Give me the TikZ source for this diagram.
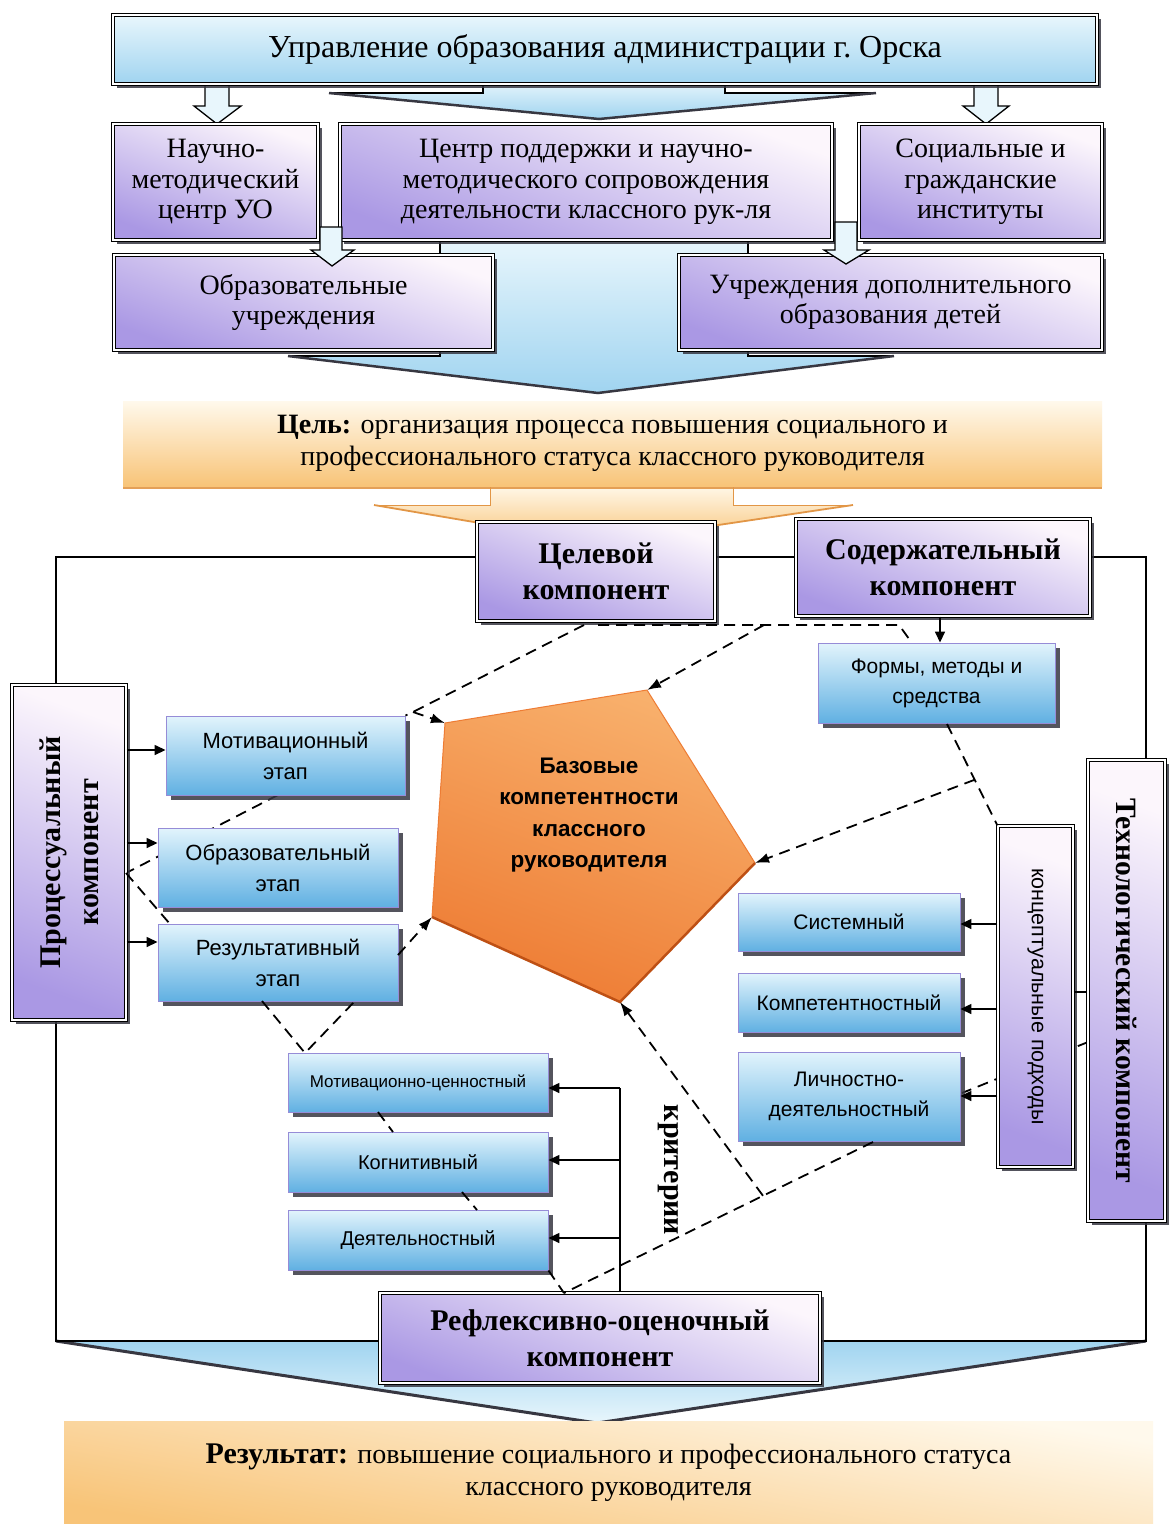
\documentclass[tikz,border=0pt]{standalone}
\usepackage{fontspec}
\setmainfont{Liberation Serif}
\newfontfamily\sansf{Liberation Sans}
\usetikzlibrary{shadows,arrows.meta,calc}
\definecolor{lav}{RGB}{170,152,228}
\definecolor{lavl}{RGB}{252,246,252}
\definecolor{bluel}{RGB}{226,244,252}
\definecolor{blued}{RGB}{96,176,226}
\definecolor{bluebd}{RGB}{150,140,215}
\definecolor{skyl}{RGB}{232,246,252}
\definecolor{skyd}{RGB}{160,212,240}
\definecolor{orl}{RGB}{255,249,236}
\definecolor{ord}{RGB}{248,196,120}
\definecolor{orbd}{RGB}{226,150,70}
\definecolor{pentl}{RGB}{248,176,108}
\definecolor{pentd}{RGB}{238,124,52}
\definecolor{pentbd}{RGB}{190,80,20}
\definecolor{shd}{RGB}{55,55,65}
\begin{document}
\begin{tikzpicture}[x=1pt,y=-1pt,
  pbox/.style={draw=black, line width=1.3pt, double=white, double distance=2.2pt,
     top color=lavl, bottom color=lav, shading angle=-20,
     drop shadow={shadow xshift=4pt, shadow yshift=-4pt, fill=shd, opacity=0.85},
     align=center, inner sep=0pt},
  bbox/.style={draw=bluebd, line width=0.9pt, top color=bluel, bottom color=blued,
     drop shadow={shadow xshift=5pt, shadow yshift=-5pt, fill=shd, opacity=0.85},
     align=center, inner sep=0pt, font=\sansf\fontsize{22}{31}\selectfont},
  sertxt/.style={font=\fontsize{28}{30.5}\selectfont, align=center},
  boldtxt/.style={font=\bfseries\fontsize{30}{36}\selectfont, align=center},
  dsh/.style={dash pattern=on 11pt off 7pt, line width=1.8pt},
  arr/.style={line width=1.5pt, -{Triangle[length=11pt,width=10pt]}},
  darr/.style={dsh, -{Latex[length=14pt,width=10pt]}},
  framel/.style={line width=1.5pt},
  hollow/.style={draw=black, line width=1.3pt, fill=skyl},
]
\useasboundingbox (0,0) rectangle (1168,1524);
\fill[white] (0,0) rectangle (1168,1524);

% frame and bottom arrow
\shade[top color=skyd, bottom color=skyl] (56,1341) -- (1146,1341) -- (597,1423) -- cycle;
\draw[line width=3pt, shd] (56,1341) -- (597,1423) -- (1146,1341);
\draw[framel] (56,557) rectangle (1146,1341);

% big arrows
\shade[top color=skyl, bottom color=skyd] (483,80) -- (725,80) -- (725,93) -- (876,93) -- (599,119) -- (329,93) -- (483,93) -- cycle;
\draw[line width=1.2pt] (483,80) -- (483,93) -- (329,93);
\draw[line width=1.2pt] (725,80) -- (725,93) -- (876,93);
\draw[line width=2.5pt, shd] (329,93) -- (599,119) -- (876,93);

\shade[top color=skyl, bottom color=skyd] (440,238) -- (748,238) -- (748,356) -- (894,356) -- (598,393) -- (288,356) -- (440,356) -- cycle;
\draw[line width=1.2pt] (440,238) -- (440,356) -- (288,356);
\draw[line width=1.2pt] (748,238) -- (748,356) -- (894,356);
\draw[line width=2.5pt, shd] (288,356) -- (598,393) -- (894,356);

\shade[top color=orl, bottom color=ord] (490,484) -- (733,484) -- (733,505) -- (853,505) -- (597,543) -- (374,505) -- (490,505) -- cycle;
\draw[orbd, line width=1pt] (490,486) -- (490,505) -- (374,505);
\draw[orbd, line width=1pt] (733,486) -- (733,505) -- (853,505);
\draw[orbd, line width=1.8pt] (374,505) -- (597,543) -- (853,505);

% small hollow arrows (top)
\draw[hollow] (205,80) -- (229,80) -- (229,106) -- (241,106) -- (217,124) -- (194,106) -- (205,106) -- cycle;
\draw[hollow] (974,80) -- (998,80) -- (998,106) -- (1009,106) -- (986,124) -- (963,106) -- (974,106) -- cycle;

% boxes
\node[pbox, top color=skyl, bottom color=skyd, minimum width=984pt, minimum height=69pt, font=\fontsize{32}{36}\selectfont] (top) at (605,49.5) {Управление образования администрации г.~Орска};

\node[pbox, sertxt, minimum width=205pt, minimum height=116pt] (nmc) at (215.5,182) {Научно-\\методический\\центр УО};
\node[pbox, sertxt, minimum width=492pt, minimum height=116pt] (cent) at (586,182) {Центр поддержки и научно-\\методического сопровождения\\деятельности классного рук-ля};
\node[pbox, sertxt, minimum width=243pt, minimum height=116pt] (soc) at (980.5,182) {Социальные и\\гражданские\\институты};
\node[pbox, sertxt, minimum width=379pt, minimum height=95pt] (obr) at (303.5,302.5) {Образовательные\\учреждения};
\node[pbox, sertxt, minimum width=423pt, minimum height=95pt] (dop) at (890.5,302.5) {Учреждения дополнительного\\образования детей};

\draw[hollow] (320,227) -- (342,227) -- (342,250) -- (354,250) -- (332,266) -- (311,250) -- (320,250) -- cycle;
\draw[hollow] (835,222) -- (857,222) -- (857,250) -- (869,250) -- (846,264) -- (824,250) -- (835,250) -- cycle;

\node[font=\fontsize{28}{32}\selectfont, align=center, minimum width=979pt, minimum height=85pt, top color=orl, bottom color=ord, inner sep=0pt,
  drop shadow={shadow xshift=0pt, shadow yshift=-3pt, fill=orbd, opacity=0.9}] (goal) at (612.5,443.5)
  {\textbf{Цель:} организация процесса повышения социального и\\профессионального статуса классного руководителя};

\node[pbox, boldtxt, minimum width=238pt, minimum height=99pt] (cel) at (596,571.5) {Целевой\\компонент};
\node[pbox, boldtxt, minimum width=294pt, minimum height=97pt] (sod) at (943,567.5) {Содержательный\\компонент};

% pentagon
\coordinate (p1) at (445,723);
\coordinate (p2) at (647,690);
\coordinate (p3) at (755,863);
\coordinate (p4) at (620,1002);
\coordinate (p5) at (432,917);
\shade[top color=pentl, bottom color=pentd, shading angle=-20] (p1) -- (p2) -- (p3) -- (p4) -- (p5) -- cycle;
\draw[pentd, line width=1pt] (p5) -- (p1) -- (p2) -- (p3);
\draw[pentbd, line width=2.5pt] (p3) -- (p4) -- (p5);
\node[font=\sansf\bfseries\fontsize{22.5}{31.5}\selectfont, align=center] (core) at (589,815) {Базовые\\компетентности\\классного\\руководителя};

% dashed lines behind boxes
\coordinate (j6) at (126,873);
\draw[dsh] (278,795) -- (j6);
\draw[dsh] (1088,1042) -- (962,1093);

\node[bbox, font=\sansf\fontsize{21}{30}\selectfont, minimum width=237pt, minimum height=80pt] (forms) at (936.5,683) {Формы, методы и\\средства};

\node[pbox, minimum width=114pt, minimum height=335pt] (proc) at (69,852.5) {};
\node[rotate=90, font=\bfseries\fontsize{30}{38}\selectfont, align=center] (procT) at (proc.center) {Процессуальный\\компонент};

\node[bbox, minimum width=239pt, minimum height=79pt] (motiv) at (285.5,755.5) {Мотивационный\\этап};
\node[bbox, minimum width=240pt, minimum height=79pt] (obrazet) at (278,867.5) {Образовательный\\этап};
\node[bbox, minimum width=240pt, minimum height=77pt] (rezet) at (278,962.5) {Результативный\\этап};

\node[bbox, font=\sansf\fontsize{21}{30}\selectfont, minimum width=222pt, minimum height=58pt] (sys) at (849,922) {Системный};
\node[bbox, font=\sansf\fontsize{21}{30}\selectfont, minimum width=222pt, minimum height=59pt] (komp) at (849,1002.5) {Компетентностный};
\node[bbox, font=\sansf\fontsize{21}{30}\selectfont, minimum width=222pt, minimum height=89pt] (lich) at (849,1096.5) {Личностно-\\деятельностный};

\node[pbox, minimum width=75pt, minimum height=341pt] (konc) at (1035.5,996.5) {};
\node[rotate=-90, font=\sansf\fontsize{21.5}{25}\selectfont] (koncT) at (konc.center) {концептуальные подходы};
\node[pbox, minimum width=77pt, minimum height=461pt] (tech) at (1126.5,990.5) {};
\node[rotate=-90, font=\bfseries\fontsize{29.5}{34}\selectfont] (techT) at (tech.center) {Технологический компонент};

\node[bbox, font=\sansf\fontsize{17}{22}\selectfont, minimum width=260pt, minimum height=59pt] (mc) at (418,1082.5) {Мотивационно-ценностный};
\node[bbox, font=\sansf\fontsize{20}{24}\selectfont, minimum width=260pt, minimum height=60pt] (kog) at (418,1162) {Когнитивный};
\node[bbox, font=\sansf\fontsize{20}{24}\selectfont, minimum width=260pt, minimum height=60pt] (deyat) at (418,1240) {Деятельностный};

\node[pbox, boldtxt, minimum width=440pt, minimum height=90pt] (refl) at (600,1338) {Рефлексивно-оценочный\\компонент};

\node[font=\fontsize{28}{32}\selectfont, align=center, minimum width=1089pt, minimum height=103pt, top color=orl, bottom color=ord, shading angle=-10, inner sep=0pt] (res) at (608.5,1473)
  {{\bfseries\fontsize{30}{32}\selectfont Результат:} повышение социального и профессионального статуса\\классного руководителя};

\node[rotate=-90, font=\bfseries\fontsize{30}{34}\selectfont] (crit) at (668,1170) {критерии};

% solid arrows
\draw[arr] (proc.east |- 0,750) -- (motiv.west |- 0,750);
\draw[arr] (proc.east |- 0,843) -- (obrazet.west |- 0,843);
\draw[arr] (proc.east |- 0,942) -- (rezet.west |- 0,942);
\draw[arr] (konc.west |- 0,924) -- (sys.east |- 0,924);
\draw[arr] (konc.west |- 0,1009) -- (komp.east |- 0,1009);
\draw[arr] (konc.west |- 0,1096) -- (lich.east |- 0,1096);
\draw[line width=1.5pt] (konc.east |- 0,992) -- (tech.west |- 0,992);
\draw[arr] (sod.south -| 940,0) -- (forms.north -| 940,0);
\draw[line width=1.5pt] (refl.north -| 620,0) -- (620,1088);
\draw[arr] (620,1088) -- (mc.east |- 0,1088);
\draw[arr] (620,1160) -- (kog.east |- 0,1160);
\draw[arr] (620,1238) -- (deyat.east |- 0,1238);

% dashed connectors
\coordinate (j1) at (413,712);
\coordinate (j2) at (899,625);
\coordinate (j3) at (764,625);
\draw[dsh] (584,625) -- (j1) -- (motiv.north east);
\draw[darr] (j1) -- (p1);
\draw[dsh] (598,625) -- (j2) -- (912,643);
\draw[darr] (j3) -- (p2);
\coordinate (f1) at (947,724);
\draw[dsh] (f1) -- (konc.north west);
\coordinate (j4) at ($(f1)!0.55!(konc.north west)$);
\draw[darr] (j4) -- (p3);
\coordinate (l1) at (873,1142);
\coordinate (r1) at (564,1293);
\draw[dsh] (l1) -- (r1);
\coordinate (j5) at ($(l1)!0.356!(r1)$);
\draw[darr] (j5) -- (p4);
\draw[dsh] (deyat.south east) -- (r1);
\draw[dsh] (378,1112) -- (393,1132);
\draw[dsh] (462,1192) -- (477,1210);
\draw[dsh] (262,1001) -- (305,1053) -- (355,1001);
\draw[dsh] (j6) -- (170,924);
\draw[darr] (398,955) -- (p5);
\end{tikzpicture}
\end{document}
